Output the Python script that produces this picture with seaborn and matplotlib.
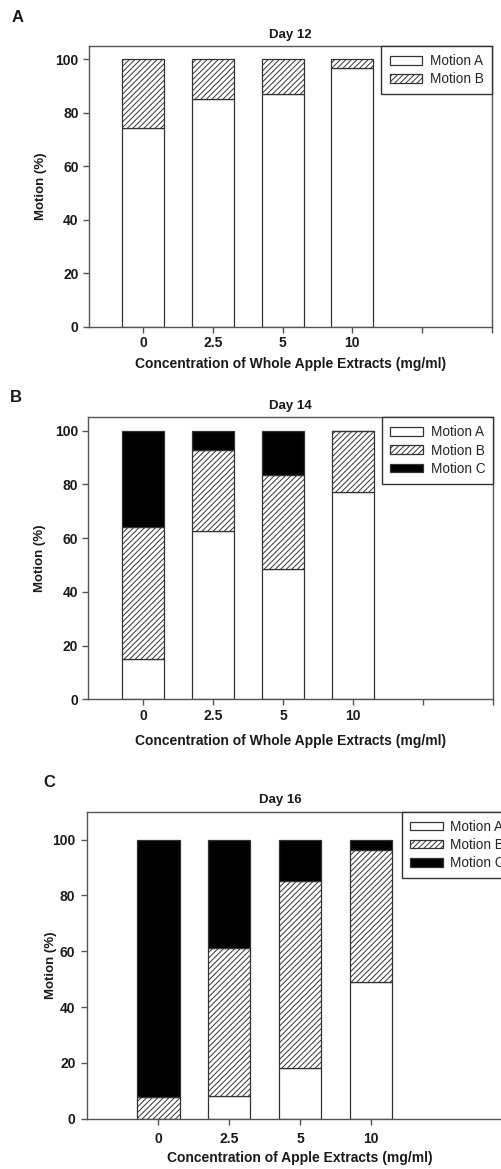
import matplotlib
matplotlib.use('Agg')
import matplotlib.pyplot as plt
import seaborn as sns
from matplotlib.patches import Patch

# ---- data ----
conc = ['0', '2.5', '5', '10']
series_names = ['Motion A', 'Motion B', 'Motion C']
yticks = [0, 20, 40, 60, 80, 100]

day12_a = [74.5, 85.2, 87.0, 96.8]
day12_b = [25.5, 14.8, 13.0, 3.2]

day14_a = [15.0, 62.5, 48.7, 77.0]
day14_b = [49.0, 30.3, 34.8, 23.0]
day14_c = [36.0, 7.2, 16.5, 0.0]

day16_a = [0.0, 8.2, 18.1, 49.0]
day16_b = [7.9, 52.9, 67.2, 47.1]
day16_c = [92.1, 38.9, 14.7, 3.9]

sns.set_style('ticks')
plt.rcParams['font.family'] = ['Liberation Sans', 'DejaVu Sans']
plt.rcParams['hatch.linewidth'] = 0.7
plt.rcParams['hatch.color'] = '#444444'

EDGE = '#333333'
SPINE = '#555555'
TXT = '#1a1a1a'
STYLES = [dict(face='white', hatch=None),
          dict(face='white', hatch='//////'),
          dict(face='black', hatch=None)]

fig = plt.figure(figsize=(5.01, 11.69), dpi=100)


def panel(rect, series, title, xlabel, xlim, ymax, xticks_extra,
          xpad, ypad, xlabelpad, ylabelpad, title_x, letter, letter_xy):
    ax = fig.add_axes(rect)
    bottom = [0.0] * len(conc)
    for i, vals in enumerate(series):
        st = STYLES[i]
        sns.barplot(x=conc, y=vals, order=conc, bottom=bottom, color=st['face'],
                    saturation=1, edgecolor=EDGE, linewidth=0.9, hatch=st['hatch'],
                    width=0.6, errorbar=None, ax=ax)
        bottom = [b + v for b, v in zip(bottom, vals)]
    ax.set_xlim(*xlim)
    ax.set_ylim(0, ymax)
    nt = len(conc) + xticks_extra
    ax.set_xticks(list(range(nt)))
    ax.set_xticklabels(conc + [''] * xticks_extra, fontweight='bold', fontsize=10, color=TXT)
    ax.set_yticks(yticks)
    ax.set_yticklabels([str(v) for v in yticks], fontweight='bold', fontsize=10, color=TXT)
    ax.tick_params(axis='both', direction='out', length=4, width=1, color=SPINE)
    ax.tick_params(axis='x', pad=xpad)
    ax.tick_params(axis='y', pad=ypad)
    for s in ax.spines.values():
        s.set_visible(True)
        s.set_color(SPINE)
        s.set_linewidth(1)
    ax.set_xlabel(xlabel, fontweight='bold', fontsize=10, color=TXT, labelpad=xlabelpad)
    ax.set_ylabel('Motion (%)', fontweight='bold', fontsize=9.5, color=TXT, labelpad=ylabelpad)
    ax.set_title(title, fontweight='bold', fontsize=9.5, color=TXT, pad=6, x=title_x)
    handles = [Patch(facecolor=STYLES[i]['face'], edgecolor=EDGE, hatch=STYLES[i]['hatch'],
                     linewidth=0.9, label=series_names[i]) for i in range(len(series))]
    leg = ax.legend(handles=handles, loc='upper right', bbox_to_anchor=(1, 1),
                    borderaxespad=0, fancybox=False, framealpha=1, edgecolor=EDGE,
                    fontsize=9.8, handlelength=2.4, handleheight=0.6, handletextpad=0.55,
                    labelspacing=0.3, borderpad=0.6)
    leg.get_frame().set_linewidth(1)
    fig.text(letter_xy[0] / 501, 1 - letter_xy[1] / 1169, letter, fontweight='bold',
             fontsize=12, ha='left', va='center', color=TXT)
    return ax


panel([89 / 501, 1 - 326.7 / 1169, 402.7 / 501, 280.7 / 1169],
      [day12_a, day12_b], 'Day 12', 'Concentration of Whole Apple Extracts (mg/ml)',
      (-0.78, 5), 105, 2, 3, 3.5, 4.4, 6, 0.5, 'A', (12, 17.5))

panel([88.3 / 501, 1 - 699.3 / 1169, 405 / 501, 282 / 1169],
      [day14_a, day14_b, day14_c], 'Day 14', 'Concentration of Whole Apple Extracts (mg/ml)',
      (-0.78, 5), 105, 2, 3, 3.5, 8, 6, 0.5, 'B', (10, 397))

panel([87.3 / 501, 1 - 1118.7 / 1169, 425.7 / 501, 307 / 1169],
      [day16_a, day16_b, day16_c], 'Day 16', 'Concentration of Apple Extracts (mg/ml)',
      (-1, 5), 110, 0, 5.5, 4.5, 3.5, -3.5, 0.453, 'C', (43, 782.5))

fig.savefig('out.png', dpi=100)
